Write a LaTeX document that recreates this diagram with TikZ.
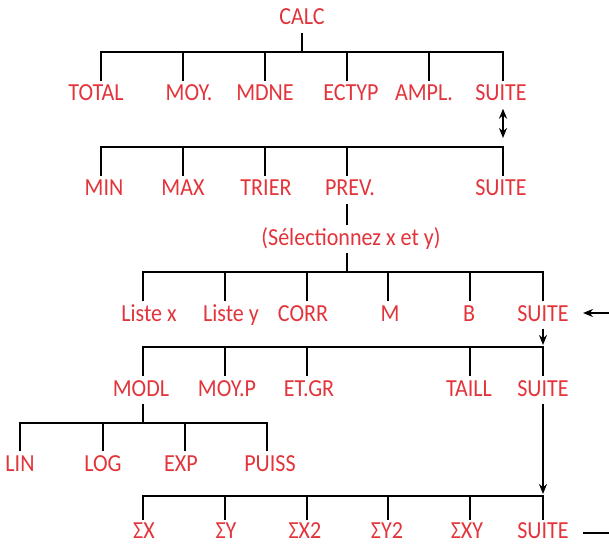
\documentclass[tikz,border=0pt]{standalone}
\usepackage{fontspec}
\setmainfont{Carlito}[FakeStretch=0.9]
\usetikzlibrary{arrows.meta}
\definecolor{menured}{RGB}{226,52,58}
\tikzset{
  menu/.style={text=menured, font=\fontsize{24.5}{26}\selectfont, inner sep=2.5pt,
    text height=16pt, text depth=4pt, anchor=base},
  menulast/.style={menu, text depth=0pt, inner sep=1pt}
}
\begin{document}
\begin{tikzpicture}[>={Stealth[length=10pt,width=8pt]}, x=1pt, y=-1pt,
    line width=2.4pt, line join=miter]
  \useasboundingbox (0,0) rectangle (609,545);
  % level 1
  \node[menu] (calc) at (302,25) {CALC};
  \node[menu] (total) at (96,101) {TOTAL};
  \node[menu] (moy) at (189,101) {MOY.};
  \node[menu] (mdne) at (265,101) {MDNE};
  \node[menu] (ectyp) at (351,101) {ECTYP};
  \node[menu] (ampl) at (424,101) {AMPL.};
  \node[menu] (suite1) at (501,101) {SUITE};
  \draw (calc.south) -- (calc.south |- 0,52);
  \draw (101,0 |- total.north) |- (503,52) -- (503,0 |- suite1.north);
  \foreach \n/\t in {moy/183,mdne/265,ectyp/347,ampl/429}
    \draw (\t,52) -- (\t,0 |- \n.north);
  \draw[<->] (503,0 |- suite1.south) -- (503,138);
  % level 2
  \node[menu] (min) at (104,196) {MIN};
  \node[menu] (max) at (183,196) {MAX};
  \node[menu] (trier) at (266,196) {TRIER};
  \node[menu] (prev) at (350,196) {PREV.};
  \node[menu] (suite2) at (501,196) {SUITE};
  \node[menu] (sel) at (351,245) {(Sélectionnez x et y)};
  \draw (101,0 |- min.north) |- (503,147) -- (503,0 |- suite2.north);
  \foreach \n/\t in {max/183,trier/265,prev/347}
    \draw (\t,147) -- (\t,0 |- \n.north);
  \draw (347,0 |- prev.south) -- (347,0 |- sel.north);
  \draw (347,0 |- sel.south) -- (347,272);
  % level 3
  \node[menu] (listex) at (149,321) {Liste x};
  \node[menu] (listey) at (231,321) {Liste y};
  \node[menu] (corr) at (303,321) {CORR};
  \node[menu] (m) at (390,321) {M};
  \node[menu] (b) at (469,321) {B};
  \node[menu] (suite3) at (543,321) {SUITE};
  \draw (143,0 |- listex.north) |- (543,272) -- (suite3.north);
  \foreach \n/\t in {listey/225,corr/307,m/388,b/470}
    \draw (\t,272) -- (\t,0 |- \n.north);
  \coordinate (inright) at (609,313);
  \draw[->] (inright) -- ++(-26,0);
  \draw[->] (suite3.south) -- (suite3.south |- 0,345);
  % level 4
  \node[menu] (modl) at (141,396) {MODL};
  \node[menu] (moyp) at (227,396) {MOY.P};
  \node[menu] (etgr) at (309,396) {ET.GR};
  \node[menu] (taill) at (469,396) {TAILL};
  \node[menu] (suite4) at (543,396) {SUITE};
  \draw (143,0 |- modl.north) |- (543,347) -- (suite4.north);
  \foreach \n/\t in {moyp/225,etgr/307,taill/470}
    \draw (\t,347) -- (\t,0 |- \n.north);
  \draw (143,0 |- modl.south) -- (143,423);
  % level 5
  \node[menu] (lin) at (20,471) {LIN};
  \node[menu] (log) at (103,471) {LOG};
  \node[menu] (exp) at (181,471) {EXP};
  \node[menu] (puiss) at (270,471) {PUISS};
  \draw (20,0 |- lin.north) |- (267,423) -- (267,0 |- puiss.north);
  \foreach \n/\t in {log/103,exp/185}
    \draw (\t,423) -- (\t,0 |- \n.north);
  \draw[->] (suite4.south) -- (suite4.south |- 0,494);
  % level 6
  \node[menulast] (sx) at (144,538) {ΣX};
  \node[menulast] (sy) at (226,538) {ΣY};
  \node[menulast] (sxx) at (305,538) {ΣX2};
  \node[menulast] (syy) at (387,538) {ΣY2};
  \node[menulast] (sxy) at (467,538) {ΣXY};
  \node[menulast] (suite6) at (543,538) {SUITE};
  \draw (143,0 |- sx.north) |- (543,496) -- (suite6.north);
  \foreach \n/\t in {sy/225,sxx/307,syy/388,sxy/470}
    \draw (\t,496) -- (\t,0 |- \n.north);
  \coordinate (outright) at (609,533);
  \draw (outright) -- ++(-26,0);
\end{tikzpicture}
\end{document}
